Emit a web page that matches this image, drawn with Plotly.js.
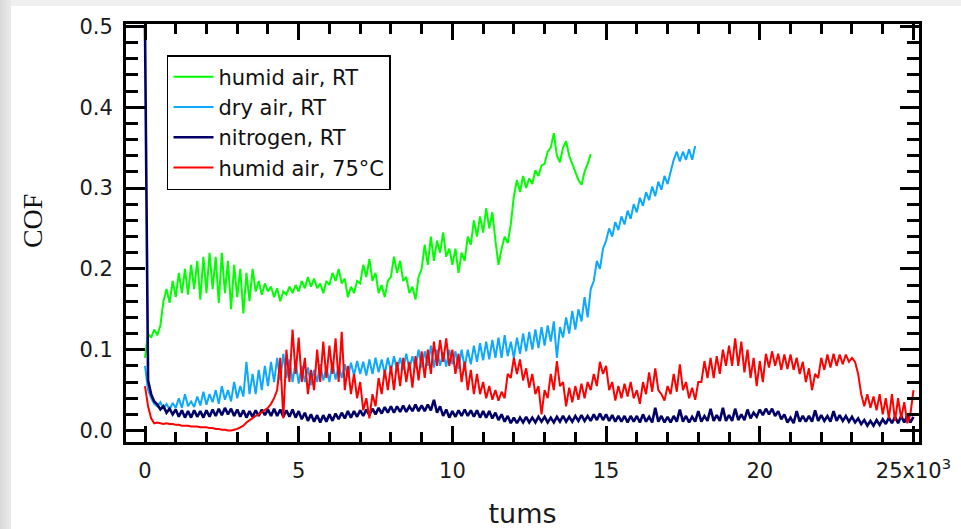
<!DOCTYPE html>
<html><head><meta charset="utf-8">
<script src="https://cdn.plot.ly/plotly-3.0.1.min.js"></script>
<style>
html,body{margin:0;padding:0;width:961px;height:529px;overflow:hidden;background:linear-gradient(to right,#d9d9d9 0px,#ebebeb 11px,#f0f0f0 11px);}
#chart{position:absolute;left:11px;top:6px;width:950px;height:523px;background:#fff;}
</style></head><body><div id="chart"></div>
<script>
// sampling step of all series (tums)
const tStep = 100;

const seriesNames = ['humid air, RT', 'dry air, RT', 'nitrogen, RT', 'humid air, 75°C'];
const xTickVals = [0, 5000, 10000, 15000, 20000, 25000];
const xTickText = ['0', '5', '10', '15', '20', '25x10<sup>3</sup>'];
const yTitle = 'COF';
const xTitle = 'tums';

// humid air, RT (COF), t = 0 .. 14500
const humidAirRT = [
0.09,0.12,0.115,0.125,0.118,0.13,0.16,0.175,0.158,0.185,
0.165,0.195,0.17,0.2,0.168,0.205,0.175,0.21,0.162,0.215,
0.17,0.22,0.175,0.215,0.158,0.22,0.17,0.21,0.15,0.205,
0.165,0.2,0.145,0.195,0.16,0.2,0.172,0.185,0.168,0.182,
0.172,0.178,0.165,0.176,0.16,0.172,0.168,0.178,0.17,0.18,
0.172,0.185,0.176,0.19,0.178,0.188,0.176,0.182,0.17,0.185,
0.18,0.195,0.185,0.2,0.182,0.188,0.165,0.178,0.17,0.185,
0.182,0.205,0.19,0.212,0.185,0.195,0.17,0.18,0.165,0.185,
0.19,0.215,0.195,0.21,0.185,0.19,0.17,0.178,0.162,0.19,
0.2,0.23,0.205,0.24,0.21,0.235,0.22,0.245,0.215,0.225,
0.205,0.225,0.195,0.22,0.21,0.24,0.23,0.26,0.24,0.265,
0.245,0.275,0.25,0.27,0.235,0.205,0.225,0.24,0.232,0.255,
0.29,0.31,0.295,0.315,0.3,0.312,0.305,0.322,0.315,0.328,
0.33,0.345,0.35,0.368,0.34,0.332,0.35,0.358,0.34,0.33,
0.32,0.31,0.304,0.32,0.33,0.342
];

// dry air, RT (COF), t = 0 .. 17900
const dryAirRT = [
0.08,0.05,0.04,0.033,0.03,0.035,0.027,0.033,0.026,0.034,
0.028,0.04,0.028,0.045,0.03,0.036,0.029,0.042,0.031,0.048,
0.032,0.045,0.035,0.05,0.033,0.055,0.038,0.05,0.036,0.06,
0.04,0.055,0.042,0.085,0.045,0.07,0.045,0.075,0.05,0.08,
0.055,0.085,0.06,0.09,0.062,0.095,0.065,0.088,0.06,0.085,
0.058,0.08,0.06,0.078,0.056,0.075,0.06,0.082,0.062,0.078,
0.06,0.085,0.063,0.08,0.065,0.082,0.066,0.084,0.068,0.086,
0.07,0.085,0.068,0.088,0.07,0.09,0.072,0.088,0.07,0.09,
0.073,0.092,0.074,0.09,0.075,0.095,0.076,0.092,0.077,0.1,
0.078,0.098,0.08,0.105,0.078,0.1,0.08,0.097,0.079,0.1,
0.082,0.098,0.076,0.1,0.078,0.1,0.082,0.105,0.085,0.108,
0.087,0.11,0.088,0.112,0.09,0.115,0.09,0.118,0.092,0.11,
0.09,0.115,0.095,0.12,0.098,0.122,0.1,0.125,0.102,0.128,
0.105,0.13,0.11,0.135,0.09,0.128,0.115,0.14,0.12,0.148,
0.125,0.15,0.135,0.165,0.14,0.175,0.185,0.21,0.2,0.225,
0.235,0.25,0.24,0.258,0.248,0.265,0.255,0.272,0.262,0.28,
0.27,0.288,0.278,0.295,0.285,0.302,0.29,0.308,0.298,0.315,
0.305,0.322,0.335,0.345,0.333,0.345,0.335,0.348,0.335,0.352
];

// nitrogen, RT (COF), t = 0 .. 25000
const nitrogenRT = [
0.5,0.062,0.045,0.036,0.032,0.026,0.03,0.022,0.027,0.02,
0.026,0.017,0.025,0.016,0.024,0.016,0.025,0.017,0.024,0.016,
0.025,0.017,0.026,0.018,0.027,0.019,0.028,0.02,0.027,0.018,
0.026,0.017,0.025,0.016,0.024,0.017,0.025,0.018,0.026,0.019,
0.026,0.018,0.027,0.018,0.026,0.017,0.025,0.017,0.026,0.016,
0.024,0.014,0.022,0.012,0.02,0.011,0.019,0.01,0.019,0.011,
0.02,0.012,0.021,0.014,0.022,0.015,0.024,0.016,0.024,0.017,
0.025,0.018,0.026,0.019,0.027,0.02,0.028,0.021,0.029,0.022,
0.03,0.022,0.03,0.023,0.031,0.023,0.03,0.024,0.032,0.024,
0.031,0.024,0.032,0.025,0.038,0.022,0.03,0.018,0.026,0.016,
0.024,0.017,0.025,0.018,0.026,0.018,0.025,0.017,0.025,0.016,
0.024,0.016,0.024,0.015,0.022,0.013,0.02,0.011,0.018,0.009,
0.016,0.009,0.016,0.01,0.017,0.01,0.016,0.01,0.017,0.011,
0.017,0.01,0.016,0.01,0.017,0.011,0.018,0.011,0.017,0.011,
0.018,0.012,0.019,0.012,0.018,0.012,0.02,0.013,0.021,0.013,
0.02,0.012,0.019,0.011,0.018,0.011,0.018,0.01,0.018,0.011,
0.018,0.01,0.02,0.011,0.017,0.01,0.028,0.011,0.018,0.01,
0.017,0.01,0.018,0.011,0.026,0.011,0.018,0.01,0.017,0.011,
0.024,0.011,0.018,0.012,0.027,0.012,0.019,0.012,0.028,0.012,
0.019,0.012,0.027,0.013,0.02,0.013,0.026,0.015,0.022,0.017,
0.026,0.019,0.027,0.02,0.027,0.018,0.024,0.014,0.02,0.01,
0.016,0.009,0.024,0.011,0.018,0.011,0.018,0.011,0.025,0.012,
0.019,0.012,0.018,0.011,0.024,0.012,0.019,0.012,0.018,0.011,
0.017,0.01,0.015,0.008,0.013,0.006,0.012,0.006,0.013,0.007,
0.014,0.008,0.016,0.009,0.017,0.009,0.018,0.01,0.019,0.01,
0.017
];

// humid air, 75°C (COF), t = 0 .. 25000
const humidAir75C = [
0.055,0.03,0.015,0.009,0.01,0.009,0.008,0.009,0.008,0.008,
0.007,0.007,0.006,0.006,0.006,0.005,0.005,0.005,0.004,0.004,
0.004,0.003,0.003,0.002,0.002,0.001,0.001,0.0,0.0,0.001,
0.002,0.004,0.006,0.01,0.013,0.016,0.018,0.02,0.023,0.025,
0.028,0.033,0.04,0.05,0.09,0.015,0.1,0.06,0.125,0.07,
0.115,0.06,0.09,0.045,0.075,0.05,0.1,0.06,0.11,0.065,
0.105,0.07,0.114,0.06,0.122,0.05,0.08,0.045,0.07,0.04,
0.06,0.025,0.04,0.015,0.045,0.03,0.065,0.045,0.075,0.05,
0.08,0.05,0.085,0.055,0.09,0.06,0.085,0.053,0.092,0.062,
0.098,0.065,0.1,0.07,0.11,0.08,0.112,0.085,0.114,0.08,
0.1,0.07,0.095,0.06,0.085,0.05,0.075,0.045,0.07,0.045,
0.06,0.04,0.055,0.038,0.05,0.037,0.048,0.04,0.07,0.065,
0.09,0.07,0.088,0.062,0.077,0.053,0.07,0.045,0.055,0.02,
0.05,0.04,0.07,0.05,0.086,0.055,0.06,0.03,0.053,0.035,
0.055,0.038,0.058,0.04,0.06,0.05,0.07,0.055,0.085,0.07,
0.08,0.05,0.06,0.037,0.055,0.04,0.058,0.042,0.06,0.04,
0.05,0.033,0.06,0.045,0.072,0.048,0.077,0.05,0.045,0.037,
0.055,0.045,0.07,0.048,0.082,0.05,0.06,0.04,0.053,0.038,
0.06,0.06,0.086,0.065,0.09,0.065,0.092,0.07,0.1,0.08,
0.105,0.08,0.114,0.08,0.11,0.072,0.1,0.065,0.09,0.055,
0.086,0.06,0.095,0.078,0.098,0.08,0.095,0.075,0.094,0.076,
0.094,0.075,0.09,0.07,0.085,0.06,0.077,0.05,0.07,0.065,
0.09,0.075,0.094,0.078,0.095,0.08,0.094,0.082,0.094,0.085,
0.09,0.085,0.07,0.045,0.03,0.045,0.028,0.042,0.025,0.045,
0.02,0.04,0.015,0.045,0.012,0.04,0.015,0.035,0.009,0.02,
0.05
];

const seriesValues = [humidAirRT, dryAirRT, nitrogenRT, humidAir75C];
const seriesColors = ['#00ff00', '#0aa8ff', '#000066', '#ff0000'];
const seriesWidths = [2, 2, 2.6, 2];

const traces = seriesValues.map((vals, i) => ({
  type: 'scatter',
  mode: 'lines',
  name: seriesNames[i],
  x0: 0,
  dx: tStep,
  y: vals,
  line: {color: seriesColors[i], width: seriesWidths[i]}
}));

const axisCommon = {
  showline: true, linecolor: '#000', linewidth: 3, mirror: 'ticks',
  ticks: 'inside', tickcolor: '#000', tickwidth: 3,
  showgrid: false, zeroline: false
};

const layout = {
  width: 950, height: 523,
  margin: {l: 115, r: 42, t: 18, b: 87, pad: 0},
  paper_bgcolor: '#ffffff', plot_bgcolor: '#ffffff',
  font: {family: 'DejaVu Sans', size: 21, color: '#1a1a1a'},
  showlegend: true,
  legend: {
    x: 0.0517, y: 0.9258, xanchor: 'left', yanchor: 'top',
    bgcolor: '#ffffff', bordercolor: '#000', borderwidth: 1.5,
    font: {family: 'DejaVu Sans', size: 21, color: '#111'},
    tracegroupgap: 0, itemwidth: 40
  },
  xaxis: Object.assign({}, axisCommon, {
    range: [-618, 25180],
    ticklen: 16,
    tickmode: 'array', tickvals: xTickVals, ticktext: xTickText,
    tickfont: {size: 21},
    ticklabelstandoff: 8,
    minor: {ticks: 'inside', ticklen: 10, tickwidth: 3, tickcolor: '#000', tick0: 0, dtick: 1000, showgrid: false},
    title: {text: xTitle, font: {family: 'DejaVu Sans', size: 27, color: '#1a1a1a'}, standoff: 24}
  }),
  yaxis: Object.assign({}, axisCommon, {
    range: [-0.0142, 0.503],
    ticklen: 19,
    tickmode: 'linear', tick0: 0, dtick: 0.1, tickformat: '.1f',
    tickfont: {size: 21},
    ticklabelstandoff: 6,
    minor: {ticks: 'inside', ticklen: 12, tickwidth: 3, tickcolor: '#000', tick0: 0, dtick: 0.02, showgrid: false}
  }),
  annotations: [{
    text: yTitle, textangle: -90, showarrow: false,
    xref: 'paper', yref: 'paper', x: -0.117, y: 0.529,
    xanchor: 'center', yanchor: 'middle',
    font: {family: 'Liberation Serif', size: 28, color: '#111'}
  }]
};

Plotly.newPlot('chart', traces, layout, {staticPlot: true, displayModeBar: false});
</script>
</body></html>
